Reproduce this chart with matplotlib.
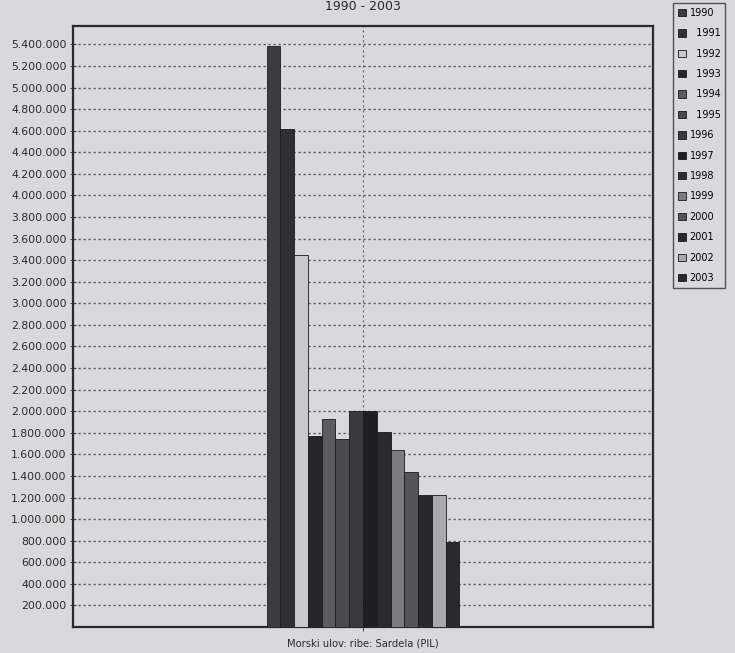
import matplotlib
matplotlib.use("Agg")
import matplotlib.pyplot as plt
import numpy as np

years = ["1990", "1991", "1992", "1993", "1994", "1995", "1996",
         "1997", "1998", "1999", "2000", "2001", "2002", "2003"]
catch = [5385000, 4620000, 3446000, 1768000, 1928000, 1743000, 2000000,
         2000000, 1810000, 1643000, 1436000, 1225000, 1225000, 786000]
legend_labels = ["1990", "  1991", "  1992", "  1993", "  1994", "  1995", "1996",
                 "1997", "1998", "1999", "2000", "2001", "2002", "2003"]
colors = ["#3c3c3e", "#303032", "#c9c9cc", "#262628", "#5c5c5f", "#4a4a4d", "#3a3a3c",
          "#1f1f21", "#2b2b2d", "#7c7c7f", "#555558", "#29292b", "#a9a9ac", "#2a2a2c"]
category = "Morski ulov: ribe: Sardela (PIL)"
title = "1990 - 2003"

bg = "#d9d9dc"
plt.rcParams["font.family"] = ["DejaVu Sans"]

fig = plt.figure(figsize=(7.35, 6.53), dpi=100, facecolor=bg)
ax = fig.add_axes([73/735, 1-627/653, 580/735, (627-25.7)/653], facecolor=bg)

n = len(years)
pos = np.arange(n) - (n - 1) / 2
handles = []
for p, v, c, lab in zip(pos, catch, colors, legend_labels):
    b = ax.bar(p, v, width=1.0, color=c, edgecolor="#1a1a1a", linewidth=0.6,
               label=lab, zorder=3)
    handles.append(b)

half = (580 / 2) / 13.76
ax.set_xlim(-half, half)
ax.set_ylim(0, 5573000)

yt = np.arange(200000, 5400001, 200000)
ax.set_yticks(yt)
ax.set_yticklabels([f"{v:,}".replace(",", ".") for v in yt], fontsize=7.8, color="#2a2a2a")
ax.set_xticks([0])
ax.set_xticklabels([category], fontsize=7.2, color="#2a2a2a")
ax.tick_params(axis="y", direction="inout", length=5, width=0.7, color="#444444", pad=2)
ax.tick_params(axis="x", direction="out", length=3, width=0.7, color="#444444", pad=5)

for y in yt:
    ax.axhline(y, color="#55555a", linestyle=(0, (1.6, 2.0)), linewidth=1.0, zorder=1)
ax.axvline(0, color="#66666a", linestyle=(0, (2.0, 2.5)), linewidth=0.8, zorder=1)

for s in ax.spines.values():
    s.set_color("#2a2a2a")
    s.set_linewidth(1.6)

fig.text(363/735, 1.0, title, ha="center", va="top", fontsize=9, color="#2a2a2a")

leg = fig.legend(handles=handles, loc="upper left", bbox_to_anchor=(673/735, 1-3/653),
                 fontsize=7, frameon=True, fancybox=False, edgecolor="#333333",
                 facecolor=bg, handlelength=0.8, handleheight=0.8, handletextpad=0.4,
                 labelspacing=1.07, borderpad=0.5, borderaxespad=0.0)
leg.get_frame().set_linewidth(1.0)

fig.savefig("out.png", dpi=100, facecolor=bg)
